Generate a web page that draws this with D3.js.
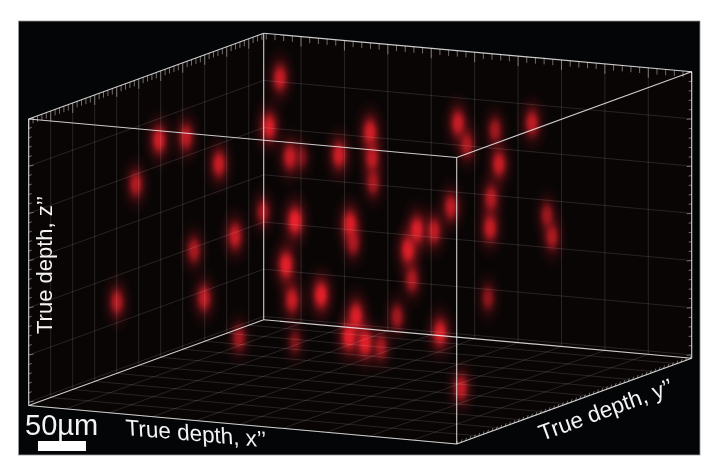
<!DOCTYPE html>
<html><head><meta charset="utf-8">
<script src="https://cdnjs.cloudflare.com/ajax/libs/d3/7.8.5/d3.min.js"></script>
<style>html,body{margin:0;padding:0;background:#fff}svg{display:block}text{font-family:"Liberation Sans",Arial,sans-serif;fill:#f4f4f4}</style>
</head><body><svg id="c" width="720" height="475"></svg>
<script>
// Projected bead positions in µm, measured from the panel's lower-left corner
const blobU=[272.9,261.5,146.9,175,209.4,122.9,283.3,295.8,334.4,255.2,288.5,345.8,226,183.3,279.2,315.6,285.4,103.1,193.8,230.2,288.5,344.8,352.1,366.7,368.8,369.8,458.3,467.7,496.9,501,535.4,492.7,491.7,451.1,415.6,433.3,551,556.3,406.3,410.4,489.6,394.8,439.6,361.5,378.1,461.5,349];
const blobV=[392.7,341.7,328.1,331.3,303.1,282.3,310.4,310.4,312.5,253.1,243.8,240.6,228.1,213.5,197.9,166.7,161.5,159.4,163.5,121.9,117.7,122.9,144.8,336.5,309.4,283.3,345.8,322.9,338.5,303.1,345.8,267.7,236.5,258.3,234.4,233.3,250,227.1,213.5,182.3,163.5,143.8,127.1,116.7,112.5,69.8,220.8];
const blobI=[.8,.9,.85,.75,.8,.7,.8,.35,.85,.6,1,.9,.8,.65,.95,.95,.8,.7,.75,.6,.4,.95,.9,.85,.75,.6,.8,.65,.6,.8,.75,.7,.8,.75,.9,.75,.55,.65,.9,.65,.5,.6,.9,.95,.6,.75,.6];
const xMax=9.86,yMax=10.68,zMax=6.07,minorStep=0.2;
const xMajor=d3.range(0,xMax,1),yMajor=d3.range(0,yMax,1),zMajor=d3.range(0,zMax,1);
const labels={x:"True depth, x’’",y:"True depth, y’’",z:"True depth, z’’",bar:"50µm"};

const svg=d3.select("#c");
svg.append("rect").attr("x",18.5).attr("y",21).attr("width",681.5).attr("height",434)
  .attr("fill","#040507").attr("stroke","#9a9a9a").attr("stroke-width",.8);

// Oblique projection of the cube
const ox=456.7,oy=444;
const xH=d3.scaleLinear([0,xMax],[0,-428]),xV=d3.scaleLinear([0,xMax],[0,-38.5]);
const yH=d3.scaleLinear([0,yMax],[0,235]),yV=d3.scaleLinear([0,yMax],[0,-85.8]);
const zV=d3.scaleLinear([0,zMax],[-286.5,0]);
const P=(x,y,z)=>[ox+xH(x)+yH(y),oy+xV(x)+yV(y)+zV(z)];
const line=d3.line();
const seg=(g,a,b,st,w)=>g.append("path").attr("d",line([a,b])).attr("stroke",st).attr("stroke-width",w).attr("fill","none");

svg.append("path").attr("d",line([P(xMax,0,0),P(xMax,yMax,0),P(0,yMax,0),P(0,yMax,zMax),P(0,0,zMax),P(xMax,0,zMax)])+"Z").attr("fill","#0a0505");

// Gaussian spot gradient
const defs=svg.append("defs");
const grad=defs.append("radialGradient").attr("id","spot");
[[0,1],[.14,.95],[.25,.78],[.36,.52],[.48,.3],[.62,.14],[.8,.05],[1,0]].forEach(([o,a])=>
  grad.append("stop").attr("offset",o).attr("stop-color","#ec1c28").attr("stop-opacity",a));

const uS=d3.scaleLinear([0,710.4],[18,700]),vS=d3.scaleLinear([0,452.1],[455,21]);
const rS=d3.scaleLinear([.3,1],[15,19]),alpha=d3.scaleLinear([.3,1],[.4,1]);
svg.append("g").style("mix-blend-mode","screen").selectAll("ellipse").data(blobU).join("ellipse")
  .attr("cx",d=>uS(d)).attr("cy",(d,i)=>vS(blobV[i]))
  .attr("rx",(d,i)=>rS(blobI[i])).attr("ry",(d,i)=>rS(blobI[i])*1.85)
  .attr("fill","url(#spot)").attr("opacity",(d,i)=>alpha(blobI[i]));

// Grid
const grid=svg.append("g"),gc="rgba(255,255,255,.16)",gw=.8;
xMajor.forEach(x=>{seg(grid,P(x,yMax,0),P(x,yMax,zMax),gc,gw);seg(grid,P(x,yMax,zMax),P(x,0,zMax),gc,gw);});
yMajor.forEach(y=>{seg(grid,P(xMax,y,0),P(xMax,y,zMax),gc,gw);seg(grid,P(xMax,y,zMax),P(0,y,zMax),gc,gw);});
zMajor.slice(1).forEach(z=>{seg(grid,P(xMax,0,z),P(xMax,yMax,z),gc,gw);seg(grid,P(xMax,yMax,z),P(0,yMax,z),gc,gw);});

// Ticks
const tk=svg.append("g"),tc="rgba(225,225,225,.6)";
const isMajor=v=>Math.abs(v-Math.round(v))<1e-6;
d3.range(0,xMax,minorStep).forEach(x=>{const a=P(x,yMax,0);seg(tk,a,[a[0],a[1]+(isMajor(x)?10:6)],tc,.8);});
d3.range(0,yMax,minorStep).forEach(y=>{const a=P(xMax,y,0);seg(tk,a,[a[0],a[1]+(isMajor(y)?10:6)],tc,.8);
  const b=P(0,y,zMax);seg(tk,b,[b[0]+1,b[1]-3],tc,.8);});
d3.range(0,zMax,minorStep).forEach(z=>{const a=P(xMax,0,z),b=P(0,yMax,z),m=isMajor(z)?5:3;
  seg(tk,a,[a[0]+m,a[1]-1],tc,.8);seg(tk,b,[b[0]-m,b[1]+.5],tc,.8);});

// Cube edges
const box=svg.append("g"),bc="rgba(238,238,238,.85)";
[[[xMax,0,0],[0,0,0]],[[0,0,0],[0,yMax,0]],[[0,yMax,0],[xMax,yMax,0]],[[xMax,yMax,0],[xMax,0,0]],
 [[xMax,0,zMax],[0,0,zMax]],[[0,0,zMax],[0,yMax,zMax]],[[0,yMax,zMax],[xMax,yMax,zMax]],[[xMax,yMax,zMax],[xMax,0,zMax]],
 [[xMax,0,0],[xMax,0,zMax]],[[xMax,yMax,0],[xMax,yMax,zMax]],[[0,yMax,0],[0,yMax,zMax]],[[0,0,0],[0,0,zMax]]]
 .forEach(([a,b])=>seg(box,P(...a),P(...b),bc,1.1));

// Labels and scale bar
svg.append("text").attr("transform","translate(52,334) rotate(-90)").attr("font-size",22).text(labels.z);
svg.append("text").attr("transform","translate(126,435) rotate(5) skewX(8)").attr("font-size",22.5).text(labels.x);
svg.append("text").attr("transform","translate(542,441) rotate(-20)").attr("font-size",22.5).text(labels.y);
svg.append("text").attr("x",25).attr("y",435).attr("font-size",29).text(labels.bar);
svg.append("rect").attr("x",uS(20.8)).attr("y",441).attr("width",uS(50)-uS(0)).attr("height",10).attr("fill","#fff");
</script></body></html>
